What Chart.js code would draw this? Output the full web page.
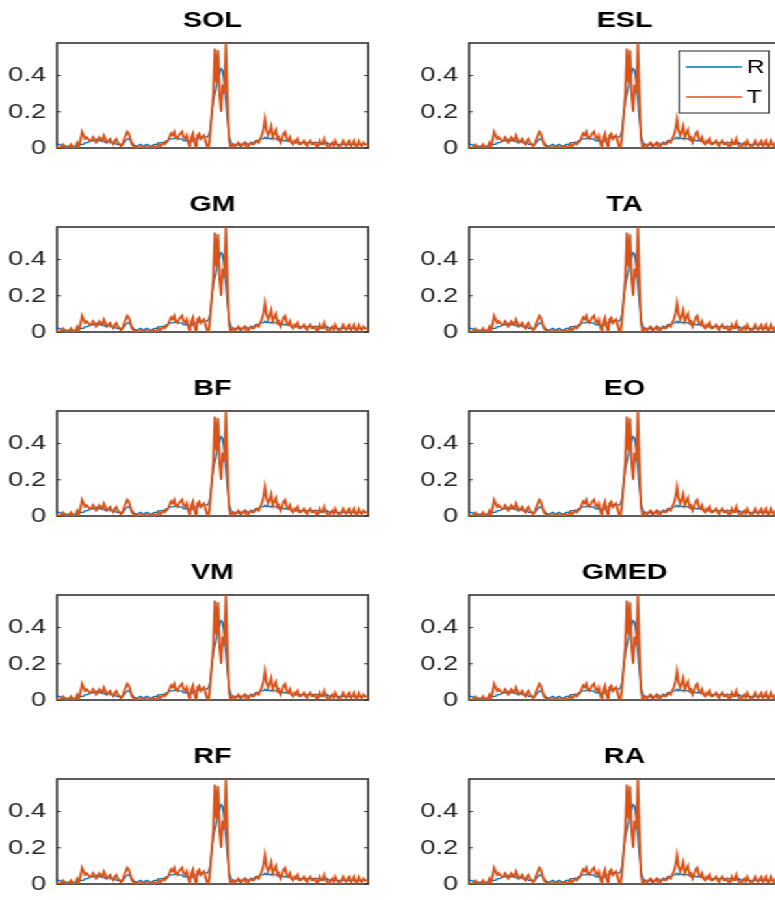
<!DOCTYPE html>
<html lang="en">
<head>
    <meta charset="UTF-8">
    <title>Muscle activity R vs T</title>
    <style>
        body { margin: 0; background: #fff; overflow: hidden; width: 775px; height: 900px; }
        #fig { position: relative; width: 596px; height: 900px; transform: scaleX(1.3); transform-origin: 0 0; }
        .panel { position: absolute; width: 286px; height: 184px; }
    </style>
</head>
<body>
    <div id="fig"></div>
    <script src="https://cdn.jsdelivr.net/npm/chart.js"></script>
    <script>
        const muscles = ['SOL', 'ESL', 'GM', 'TA', 'BF', 'EO', 'VM', 'GMED', 'RF', 'RA'];
        const yTickValues = [0, 0.2, 0.4];
        const yMax = 0.58;

        const seriesR = [
            0.02, 0.02, 0.02, 0.01, 0.01, 0.01, 0.01, 0.01, 0.01, 0.01, 0.01, 0.01, 0.01, 0.01, 0.01,
            0.02, 0.02, 0.02, 0.03, 0.03, 0.03, 0.04, 0.04, 0.04, 0.04, 0.04, 0.05, 0.04, 0.04, 0.04,
            0.04, 0.03, 0.04, 0.04, 0.03, 0.03, 0.03, 0.03, 0.02, 0.02, 0.02, 0.02, 0.02, 0.03,
            0.04, 0.05, 0.05, 0.04, 0.03, 0.02,
            0.01, 0.01, 0.01, 0.02, 0.02, 0.01, 0.01, 0.02, 0.02, 0.01, 0.01, 0.01, 0.02, 0.02,
            0.02, 0.03, 0.03, 0.03, 0.03, 0.03, 0.04, 0.04,
            0.05, 0.05, 0.05, 0.05, 0.06, 0.06, 0.05, 0.05, 0.05, 0.04, 0.04, 0.04, 0.04, 0.03,
            0.04, 0.04, 0.05, 0.05, 0.05, 0.06, 0.06, 0.06, 0.06, 0.06, 0.06, 0.07,
            0.10, 0.18, 0.26, 0.30, 0.34, 0.38, 0.41, 0.44, 0.43, 0.36, 0.26, 0.16, 0.08, 0.04, 0.02,
            0.02, 0.01, 0.02, 0.02, 0.01, 0.02, 0.02, 0.03, 0.03, 0.02, 0.02, 0.03, 0.03, 0.03,
            0.04, 0.04, 0.04, 0.05, 0.05, 0.05,
            0.06, 0.05, 0.06, 0.05, 0.05, 0.06, 0.05, 0.05, 0.05, 0.04, 0.04, 0.05, 0.04, 0.04,
            0.04, 0.04, 0.04, 0.03, 0.03,
            0.03, 0.03, 0.03, 0.03, 0.03, 0.03, 0.03, 0.03, 0.03, 0.03, 0.03, 0.03, 0.03, 0.03,
            0.03, 0.03, 0.03, 0.03, 0.03, 0.03, 0.02, 0.03, 0.02, 0.02, 0.02, 0.02, 0.02, 0.02,
            0.02, 0.02, 0.02, 0.02, 0.02, 0.02, 0.02, 0.02, 0.02, 0.02, 0.02, 0.02, 0.02, 0.02,
            0.02, 0.02, 0.02, 0.02, 0.02, 0.02
        ];

        const seriesT = [
            0.01, 0.00, 0.00, 0.01, 0.02, 0.01, 0.00, 0.00, 0.01, 0.02, 0.00, 0.00, 0.01, 0.03, 0.01,
            0.04, 0.09, 0.07, 0.05, 0.06, 0.05,
            0.04, 0.04, 0.06, 0.05, 0.03, 0.04, 0.06, 0.05, 0.04, 0.07, 0.05, 0.03, 0.04, 0.05,
            0.03, 0.02, 0.04, 0.05, 0.03, 0.02, 0.01, 0.02, 0.05,
            0.07, 0.09, 0.08, 0.05, 0.02, 0.01,
            0.00, 0.01, 0.00, 0.00, 0.01, 0.00, 0.00, 0.01, 0.00, 0.00, 0.01, 0.00, 0.01, 0.00,
            0.01, 0.02, 0.01, 0.02, 0.03, 0.02, 0.03, 0.04,
            0.06, 0.08, 0.07, 0.09, 0.06, 0.05, 0.07, 0.08, 0.09, 0.06, 0.05, 0.07, 0.03, 0.00,
            0.06, 0.08, 0.03, 0.00, 0.07, 0.08, 0.05, 0.06, 0.07, 0.04, 0.01, 0.00,
            0.08, 0.19, 0.30, 0.55, 0.36, 0.54, 0.30, 0.20, 0.35, 0.30, 0.58, 0.30, 0.05, 0.00, 0.01,
            0.02, 0.01, 0.02, 0.03, 0.02, 0.01, 0.02, 0.03, 0.01, 0.00, 0.02, 0.03, 0.02, 0.02,
            0.03, 0.04, 0.03, 0.05, 0.07, 0.10,
            0.16, 0.10, 0.07, 0.09, 0.12, 0.06, 0.08, 0.10, 0.05, 0.06, 0.03, 0.05, 0.08, 0.09,
            0.05, 0.04, 0.06, 0.03, 0.02,
            0.04, 0.03, 0.05, 0.02, 0.02, 0.03, 0.04, 0.02, 0.01, 0.03, 0.04, 0.02, 0.02, 0.03,
            0.01, 0.01, 0.04, 0.02, 0.02, 0.05, 0.02, 0.01, 0.00, 0.02, 0.03, 0.01, 0.04, 0.02,
            0.01, 0.00, 0.02, 0.04, 0.02, 0.01, 0.03, 0.04, 0.01, 0.02, 0.04, 0.01, 0.01, 0.04,
            0.02, 0.01, 0.03, 0.02, 0.02, 0.01
        ];

        const sampleLabels = seriesT.map((_, i) => i + 1);
        const fontFamily = '"Liberation Sans", Arial, sans-serif';
        const axisColor = '#262626';

        // box around the axes, inward tick marks, and the boxed legend
        const framePlugin = {
            id: 'frame',
            beforeDatasetsDraw(chart) {
                const { ctx, chartArea: a, scales: { y } } = chart;
                ctx.save();
                ctx.strokeStyle = axisColor;
                ctx.lineWidth = 1.5;
                ctx.strokeRect(a.left, a.top, a.right - a.left, a.bottom - a.top);
                ctx.lineWidth = 1;
                ctx.beginPath();
                yTickValues.forEach(v => {
                    const py = y.getPixelForValue(v);
                    ctx.moveTo(a.left, py);
                    ctx.lineTo(a.left + 3, py);
                    ctx.moveTo(a.right, py);
                    ctx.lineTo(a.right - 3, py);
                });
                ctx.stroke();
                ctx.restore();
            },
            afterDraw(chart, args, opts) {
                if (!opts.legend) return;
                const { ctx, chartArea: a } = chart;
                const bx = a.right - 77.7, by = a.top + 8, bw = 69.2, bh = 62;
                ctx.save();
                ctx.fillStyle = '#fff';
                ctx.fillRect(bx, by, bw, bh);
                ctx.strokeStyle = axisColor;
                ctx.lineWidth = 1;
                ctx.strokeRect(bx, by, bw, bh);
                ctx.font = '19px ' + fontFamily;
                ctx.textBaseline = 'middle';
                chart.data.datasets.forEach((ds, i) => {
                    const ly = by + 16 + 30 * i;
                    ctx.strokeStyle = ds.borderColor;
                    ctx.lineWidth = 1.4;
                    ctx.beginPath();
                    ctx.moveTo(bx + 5.4, ly);
                    ctx.lineTo(bx + 48.5, ly);
                    ctx.stroke();
                    ctx.fillStyle = '#000';
                    ctx.fillText(ds.label, bx + 52, ly + 1);
                });
                ctx.restore();
            }
        };

        const fig = document.getElementById('fig');

        muscles.forEach((name, idx) => {
            const col = idx % 2;
            const row = Math.floor(idx / 2);
            const box = document.createElement('div');
            box.className = 'panel';
            box.style.left = (col * 317) + 'px';
            box.style.top = (row * 184) + 'px';
            const cv = document.createElement('canvas');
            box.appendChild(cv);
            fig.appendChild(box);

            new Chart(cv, {
                type: 'line',
                data: {
                    labels: sampleLabels,
                    datasets: [
                        { label: 'R', data: seriesR, borderColor: '#0072BD', borderWidth: 1.3, pointRadius: 0, order: 2 },
                        { label: 'T', data: seriesT, borderColor: '#D95319', borderWidth: 1.9, pointRadius: 0, order: 1 }
                    ]
                },
                options: {
                    responsive: true,
                    maintainAspectRatio: false,
                    animation: false,
                    events: [],
                    layout: { padding: { left: 0, right: 2.9, top: 0, bottom: 36 } },
                    scales: {
                        x: { display: false, offset: false },
                        y: {
                            min: 0,
                            max: yMax,
                            afterBuildTicks: s => { s.ticks = yTickValues.map(v => ({ value: v })); },
                            afterFit: s => { s.width = 43.8; },
                            grid: { display: false, drawTicks: false },
                            border: { display: false },
                            ticks: {
                                padding: 8.4,
                                color: axisColor,
                                font: { family: fontFamily, size: 21 },
                                callback: v => String(v)
                            }
                        }
                    },
                    plugins: {
                        legend: { display: false },
                        tooltip: { enabled: false },
                        title: {
                            display: true,
                            text: name,
                            fullSize: false,
                            color: '#000',
                            font: { family: fontFamily, size: 22, weight: 'bold', lineHeight: 1.2 },
                            padding: { top: 8, bottom: 8.6 }
                        },
                        frame: { legend: idx === 1 }
                    }
                },
                plugins: [framePlugin]
            });
        });
    </script>
</body>
</html>
